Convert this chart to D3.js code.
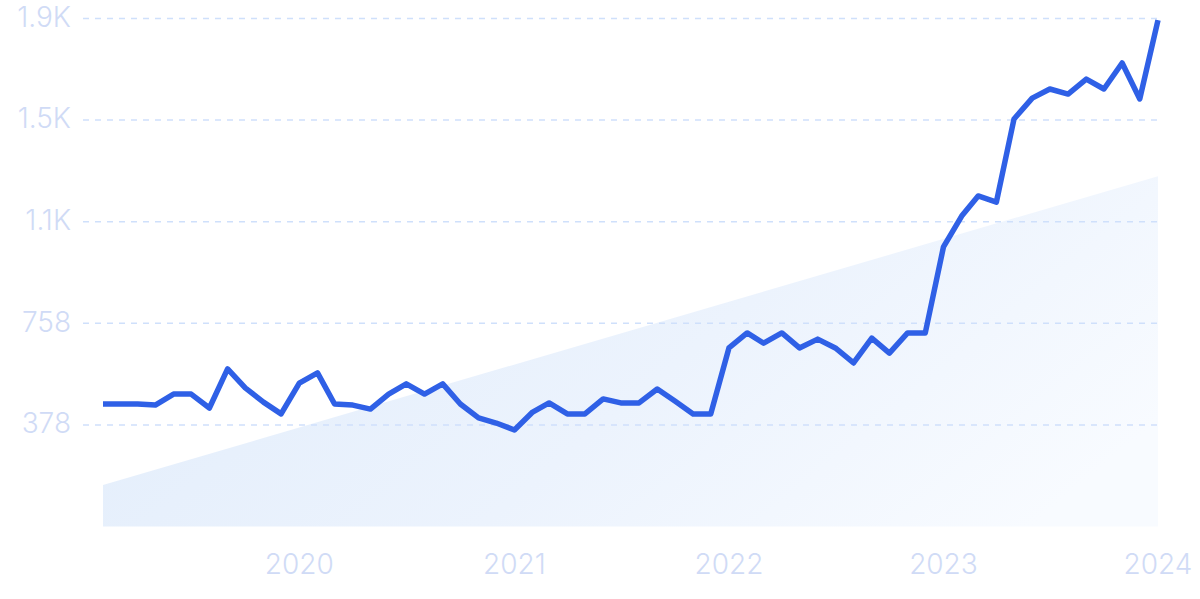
<!DOCTYPE html>
<html>
<head>
<meta charset="utf-8">
<script src="https://cdn.jsdelivr.net/npm/d3@7"></script>
<style>
  html, body { margin: 0; padding: 0; background: #ffffff; }
  svg { display: block; }
  text { font-family: Inter, "Noto Sans", sans-serif; font-weight: 300; }
</style>
</head>
<body>
<svg id="chart" width="1200" height="599"></svg>
<script>
// ---- data ----
const months = [
  "2019-02","2019-03","2019-04","2019-05","2019-06","2019-07","2019-08","2019-09","2019-10","2019-11","2019-12",
  "2020-01","2020-02","2020-03","2020-04","2020-05","2020-06","2020-07","2020-08","2020-09","2020-10","2020-11","2020-12",
  "2021-01","2021-02","2021-03","2021-04","2021-05","2021-06","2021-07","2021-08","2021-09","2021-10","2021-11","2021-12",
  "2022-01","2022-02","2022-03","2022-04","2022-05","2022-06","2022-07","2022-08","2022-09","2022-10","2022-11","2022-12",
  "2023-01","2023-02","2023-03","2023-04","2023-05","2023-06","2023-07","2023-08","2023-09","2023-10","2023-11","2023-12",
  "2024-01"
];
const values = [
  457, 457, 457, 453, 494, 494, 442, 588, 517, 464, 420,
  535, 573, 457, 453, 438, 494, 532, 494, 532, 457, 405, 386,
  360, 427, 461, 420, 420, 476, 461, 461, 513, 468, 420, 420,
  666, 722, 684, 722, 666, 699, 666, 610, 703, 647, 722, 722,
  1043, 1158, 1233, 1210, 1520, 1598, 1632, 1613, 1669, 1632, 1729, 1595,
  1889
];
const trendValues = [155, 1307];          // trend band at first and last month
const yTickValues = [379, 758, 1137, 1516, 1895];
const yTickLabels = ["378", "758", "1.1K", "1.5K", "1.9K"];
const xTickLabels = ["2020", "2021", "2022", "2023", "2024"];
const yMax = 1895;

// ---- chart ----
const svg = d3.select("#chart");
const parse = d3.timeParse("%Y-%m");
const dates = months.map(parse);
const data = dates.map((d, i) => ({ date: d, value: values[i] }));

const x = d3.scaleTime()
  .domain([dates[0], dates[dates.length - 1]])
  .range([103, 1158]);
const y = d3.scaleLinear()
  .domain([0, yMax])
  .range([526.5, 18.5]);

const defs = svg.append("defs");
const grad = defs.append("linearGradient")
  .attr("id", "trendFill")
  .attr("x1", "0").attr("y1", "0.3")
  .attr("x2", "1").attr("y2", "0.7");
grad.append("stop").attr("offset", "0").attr("stop-color", "#e2edfb");
grad.append("stop").attr("offset", "0.55").attr("stop-color", "#ecf3fd");
grad.append("stop").attr("offset", "1").attr("stop-color", "#f8fbff");

// trend band
const trendData = [
  { date: dates[0], value: trendValues[0] },
  { date: dates[dates.length - 1], value: trendValues[1] }
];
svg.append("path")
  .datum(trendData)
  .attr("fill", "url(#trendFill)")
  .attr("d", d3.area()
    .x(d => x(d.date))
    .y0(y(0))
    .y1(d => y(d.value)));

// y grid + labels
const yAxis = svg.append("g").attr("class", "y-axis");
yAxis.selectAll("line")
  .data(yTickValues)
  .join("line")
  .attr("x1", 83)
  .attr("x2", x(dates[dates.length - 1]))
  .attr("y1", d => y(d))
  .attr("y2", d => y(d))
  .attr("stroke", "#cfe0fb")
  .attr("stroke-width", 1.5)
  .attr("stroke-dasharray", "6,6");
yAxis.selectAll("text")
  .data(yTickValues)
  .join("text")
  .attr("x", 71)
  .attr("y", d => y(d) - 1.5)
  .attr("dy", "0.35em")
  .attr("text-anchor", "end")
  .attr("font-size", 28)
  .attr("fill", "#d0dbf6")
  .text((d, i) => yTickLabels[i]);

// x labels
const xTicks = xTickLabels.map(s => d3.timeParse("%Y")(s));
svg.append("g").selectAll("text")
  .data(xTicks)
  .join("text")
  .attr("x", d => x(d))
  .attr("y", 574)
  .attr("text-anchor", "middle")
  .attr("font-size", 28)
  .attr("fill", "#d0dbf6")
  .text((d, i) => xTickLabels[i]);

// line
svg.append("path")
  .datum(data)
  .attr("fill", "none")
  .attr("stroke", "#2f60e6")
  .attr("stroke-width", 5.5)
  .attr("stroke-linejoin", "round")
  .attr("stroke-linecap", "butt")
  .attr("d", d3.line()
    .x(d => x(d.date))
    .y(d => y(d.value)));
</script>
</body>
</html>
